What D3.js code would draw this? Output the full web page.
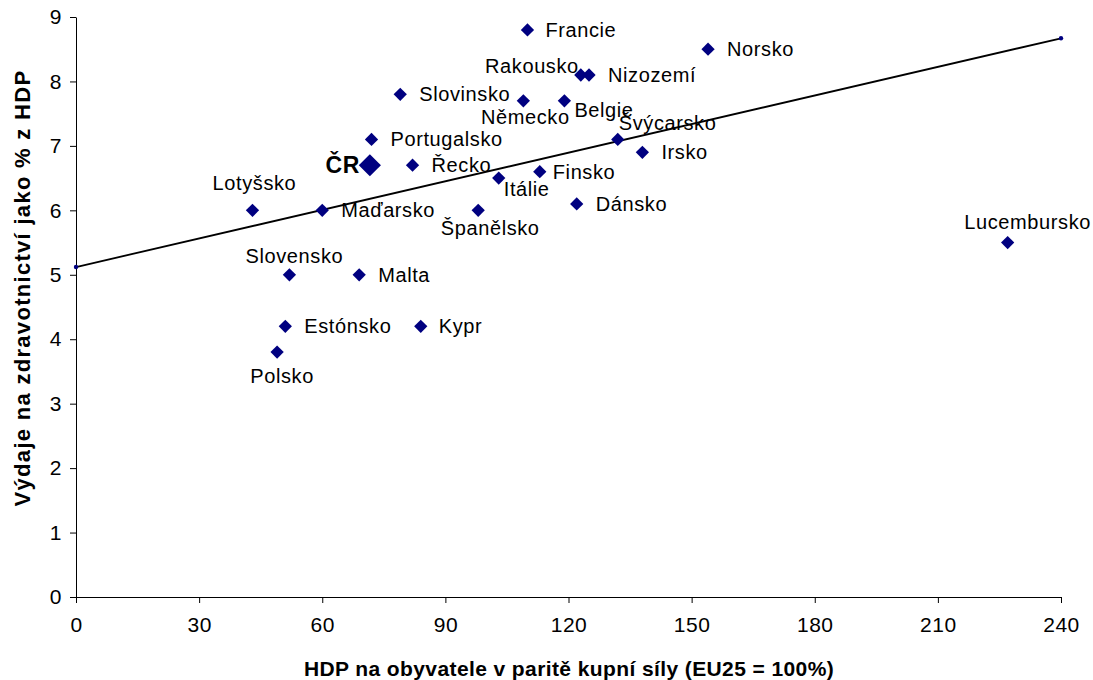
<!DOCTYPE html>
<html><head><meta charset="utf-8">
<script src="https://cdn.jsdelivr.net/npm/d3@7"></script>
<style>
body{margin:0;background:#fff;}
text{font-family:"Liberation Sans",Arial,sans-serif;}
</style></head>
<body><svg id="c" width="1093" height="680"></svg>
<script>
const countries = ["Francie","Norsko","Rakousko","Nizozemí","Slovinsko","Německo","Belgie","Švýcarsko","Portugalsko","Irsko","ČR","Řecko","Finsko","Itálie","Dánsko","Lotyšsko","Maďarsko","Španělsko","Lucembursko","Slovensko","Malta","Estónsko","Kypr","Polsko"];
const gdp = [110,154,123,125,79,109,119,132,72,138,71.6,82,113,103,122,43,60,98,227,52,69,51,84,49];
const health = [8.8,8.5,8.1,8.1,7.8,7.7,7.7,7.1,7.1,6.9,6.7,6.7,6.6,6.5,6.1,6.0,6.0,6.0,5.5,5.0,5.0,4.2,4.2,3.8];
const trendX = [0,240];
const trendY = [5.12,8.67];
const xTicks = [0,30,60,90,120,150,180,210,240];
const yTicks = [0,1,2,3,4,5,6,7,8,9];
const xTitle = "HDP na obyvatele v paritě kupní síly (EU25 = 100%)";
const yTitle = "Výdaje na zdravotnictví jako % z HDP";
// label placement: [anchor, dx, dy]
const labelPlace = [["start",18,0],["start",19,0],["end",-2,-9],["start",19,0],["start",19,0],["middle",2,16],["start",10,9],["start",1,-16],["start",19,0],["start",19,0],["end",-10,0],["start",19,0],["start",13,0],["start",5,11],["start",19,0],["middle",2,-27],["start",19,0],["middle",12,18],["middle",20,-21],["middle",5,-19],["start",19,0],["start",19,0],["start",18,0],["middle",5,24]];

const svg = d3.select("#c");
const x = d3.scaleLinear().domain([0,240]).range([76,1061]);
const y = d3.scaleLinear().domain([0,9]).range([597,17]);
const navy = "#000080";

// axes
const xa = svg.append("g").attr("transform","translate(0,597)")
  .call(d3.axisBottom(x).tickValues(xTicks).tickSize(6).tickPadding(14).tickSizeOuter(0));
const ya = svg.append("g").attr("transform","translate(76,0)")
  .call(d3.axisLeft(y).tickValues(yTicks).tickSize(6).tickPadding(8).tickSizeOuter(0));
[xa,ya].forEach(a=>{
  a.select(".domain").attr("stroke","#000").attr("stroke-width",1);
  a.selectAll(".tick line").attr("stroke","#000");
  a.selectAll(".tick text").attr("font-size",21).attr("fill","#000")
   .style("font-family","'Liberation Sans',Arial,sans-serif").style("letter-spacing","0.5px");
});
xa.selectAll(".tick text").attr("dy","0.71em");

// trend line
const tdata = trendX.map((d,i)=>[d,trendY[i]]);
svg.append("path").datum(tdata)
  .attr("d",d3.line().x(d=>x(d[0])).y(d=>y(d[1])))
  .attr("stroke","#000").attr("stroke-width",1.8).attr("fill","none");
svg.selectAll(".tm").data(tdata).join("circle")
  .attr("cx",d=>x(d[0])).attr("cy",d=>y(d[1])).attr("r",2.2).attr("fill",navy);

// points
const pts = countries.map((c,i)=>({c, x:gdp[i], y:health[i], p:labelPlace[i]}));
svg.selectAll(".pt").data(pts).join("path")
  .attr("d",d=>d3.symbol(d3.symbolSquare, d.c==="ČR"?245:88)())
  .attr("transform",d=>`translate(${x(d.x)},${y(d.y)}) rotate(45)`)
  .attr("fill",navy);

svg.selectAll(".lb").data(pts).join("text")
  .attr("x",d=>x(d.x)+d.p[1]).attr("y",d=>y(d.y)+d.p[2])
  .attr("text-anchor",d=>d.p[0]).attr("dominant-baseline","central")
  .attr("font-size",d=>d.c==="ČR"?23:20)
  .attr("font-weight",d=>d.c==="ČR"?"bold":"normal")
  .style("letter-spacing","0.6px")
  .attr("fill","#000").text(d=>d.c);

// titles
svg.append("text").attr("x",569).attr("y",668).attr("text-anchor","middle")
  .attr("dominant-baseline","central").attr("font-size",21).attr("font-weight","bold")
  .style("letter-spacing","0.4px").text(xTitle);
svg.append("text").attr("transform","translate(22,288) rotate(-90)").attr("text-anchor","middle")
  .attr("dominant-baseline","central").attr("font-size",22).attr("font-weight","bold")
  .style("letter-spacing","1.3px").text(yTitle);
</script></body></html>
